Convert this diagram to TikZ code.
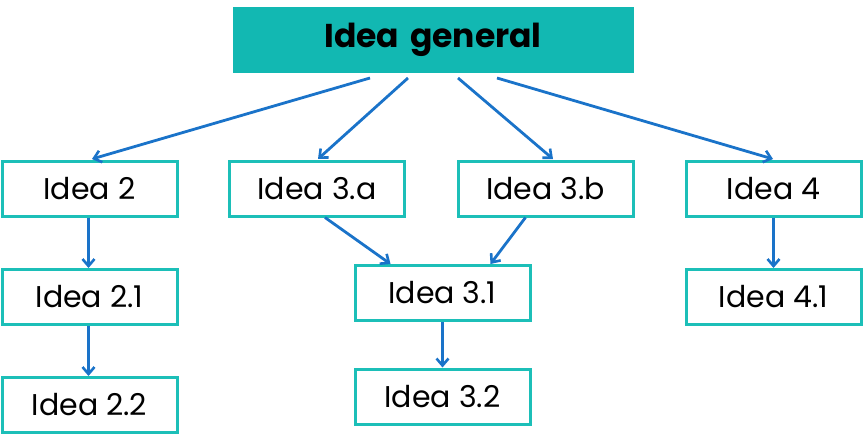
\documentclass[tikz,border=0pt]{standalone}
\usepackage{fontspec}
\setmainfont{Poppins}
\usetikzlibrary{arrows.meta}
\definecolor{tealfill}{HTML}{12B8B2}
\definecolor{tealline}{HTML}{1CBFB8}
\definecolor{arrowblue}{HTML}{1A73C9}
\begin{document}
\begin{tikzpicture}[x=1pt,y=-1pt,
  idea/.style={draw=tealline,line width=3pt,fill=white,minimum width=175pt,minimum height=55pt,inner sep=0pt,font=\fontsize{30}{33}\selectfont},
  link/.style={draw=arrowblue,line width=2.8pt,-{Straight Barb[length=7pt,width=12pt,line width=2.6pt]}}]
\useasboundingbox (0,0) rectangle (863,447);
\node[fill=tealfill,draw=white,line width=0.5pt,minimum width=402pt,minimum height=67pt,inner sep=0pt,font=\fontsize{33}{36}\selectfont\bfseries] (top) at (433,39.5) {Idea\hspace{4pt} general};
\node[idea] (i2) at (89.5,188.5) {Idea 2};
\node[idea] (i3a) at (317,188.5) {Idea 3.a};
\node[idea] (i3b) at (545.5,188.5) {Idea 3.b};
\node[idea] (i4) at (773.5,188.5) {Idea 4};
\node[idea] (i21) at (89.5,297) {Idea 2.1};
\node[idea] (i22) at (89.5,405) {Idea 2.2};
\node[idea] (i31) at (442.5,293) {Idea 3.1};
\node[idea] (i32) at (442.5,396.5) {Idea 3.2};
\node[idea] (i41) at (773.5,297) {Idea 4.1};
\coordinate (s1) at (370,78);
\coordinate (s2) at (408,78);
\coordinate (s3) at (458,78);
\coordinate (s4) at (497,78);
\coordinate (e1) at (92,159);
\coordinate (e2) at (318,159);
\coordinate (e3) at (553,159);
\coordinate (e4) at (773,159);
\draw[link] (s1) -- (e1);
\draw[link] (s2) -- (e2);
\draw[link] (s3) -- (e3);
\draw[link] (s4) -- (e4);
\draw[link] ([xshift=8pt]i3a.south) -- ([xshift=-52pt]i31.north);
\draw[link] ([xshift=-20pt]i3b.south) -- ([xshift=48pt]i31.north);
\draw[link] ([xshift=-1pt]i2.south) -- ([xshift=-1pt]i21.north);
\draw[link] ([xshift=-1pt]i21.south) -- ([xshift=-1pt]i22.north);
\draw[link] (i31.south) -- (i32.north);
\draw[link] (i4.south) -- (i41.north);
\end{tikzpicture}
\end{document}
